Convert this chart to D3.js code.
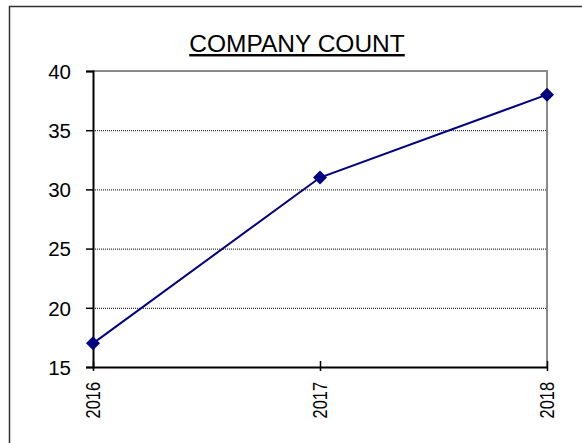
<!DOCTYPE html>
<html>
<head>
<meta charset="utf-8">
<script src="https://cdn.jsdelivr.net/npm/d3@7"></script>
<style>
  body { margin: 0; background: #fff; }
  text { font-family: "Liberation Sans", Arial, sans-serif; fill: #000; }
</style>
</head>
<body>
<div id="chart"></div>
<script>
// data
var years = ["2016", "2017", "2018"];
var counts = [17, 31, 38];
var yTicks = [15, 20, 25, 30, 35, 40];
var title = "COMPANY COUNT";

var W = 582, H = 443;
var margin = {top: 71, right: 35, bottom: 76, left: 93},
    width = W - margin.left - margin.right,
    height = H - margin.top - margin.bottom;

var svg = d3.select("#chart").append("svg")
  .attr("width", W)
  .attr("height", H);

// outer chart frame (only left/top visible, rest is cut off)
svg.append("rect")
  .attr("x", 9.5).attr("y", 6.5)
  .attr("width", W + 20).attr("height", H + 20)
  .attr("fill", "none")
  .attr("stroke", "#333")
  .attr("stroke-width", 1.5);

svg.append("text")
  .attr("x", 297).attr("y", 52)
  .attr("text-anchor", "middle")
  .style("font-size", "24.5px")
  .style("text-decoration", "underline")
  .text(title);

var g = svg.append("g")
  .attr("transform", "translate(" + margin.left + "," + margin.top + ")");

var x = d3.scalePoint()
  .domain(years)
  .range([0, width]);

var y = d3.scaleLinear()
  .domain([15, 40])
  .range([height, 0]);

// dotted gridlines
g.selectAll(".grid")
  .data(yTicks.slice(1, -1))
  .join("line")
    .attr("x1", 0).attr("x2", width)
    .attr("y1", d => y(d) + 0.5).attr("y2", d => y(d) + 0.5)
    .attr("stroke", "#000")
    .attr("stroke-width", 1)
    .attr("stroke-dasharray", "1,1");

// top and right plot border in gray
g.append("path")
  .attr("d", "M0," + y(40) + "H" + width + "V" + height)
  .attr("fill", "none")
  .attr("stroke", "#8a8a8a")
  .attr("stroke-width", 2);

// y axis
var yAxis = g.append("g")
  .call(d3.axisLeft(y).tickValues(yTicks).tickSize(7).tickPadding(15));
yAxis.select(".domain").attr("stroke", "#000").attr("stroke-width", 2);
yAxis.selectAll(".tick line").attr("stroke", "#000").attr("stroke-width", 1.5);
yAxis.selectAll(".tick text")
  .style("font-size", "20.5px")
  .attr("dy", "0.36em");

// x axis with crossing ticks
var xAxis = g.append("g")
  .attr("transform", "translate(0," + height + ")")
  .call(d3.axisBottom(x).tickSize(0).tickFormat(""));
xAxis.select(".domain").attr("stroke", "#000").attr("stroke-width", 2);
xAxis.selectAll(".tick line")
  .attr("y1", -6).attr("y2", 4)
  .attr("stroke", "#000").attr("stroke-width", 1.5);

g.selectAll(".xlab")
  .data(years)
  .join("text")
    .attr("class", "xlab")
    .attr("transform", d => "translate(" + x(d) + "," + (height + 15) + ") rotate(-90) scale(0.8,1)")
    .attr("text-anchor", "end")
    .attr("dy", "0.36em")
    .style("font-size", "20.5px")
    .text(d => d);

// series line
var pts = years.map((d, i) => [x(d), y(counts[i])]);
g.append("path")
  .datum(pts)
  .attr("d", d3.line())
  .attr("fill", "none")
  .attr("stroke", "#000080")
  .attr("stroke-width", 2);

g.selectAll(".mk")
  .data(pts)
  .join("path")
    .attr("class", "mk")
    .attr("transform", d => "translate(" + d[0] + "," + d[1] + ")")
    .attr("d", "M0,-7L7,0L0,7L-7,0Z")
    .attr("fill", "#000080");
</script>
</body>
</html>
